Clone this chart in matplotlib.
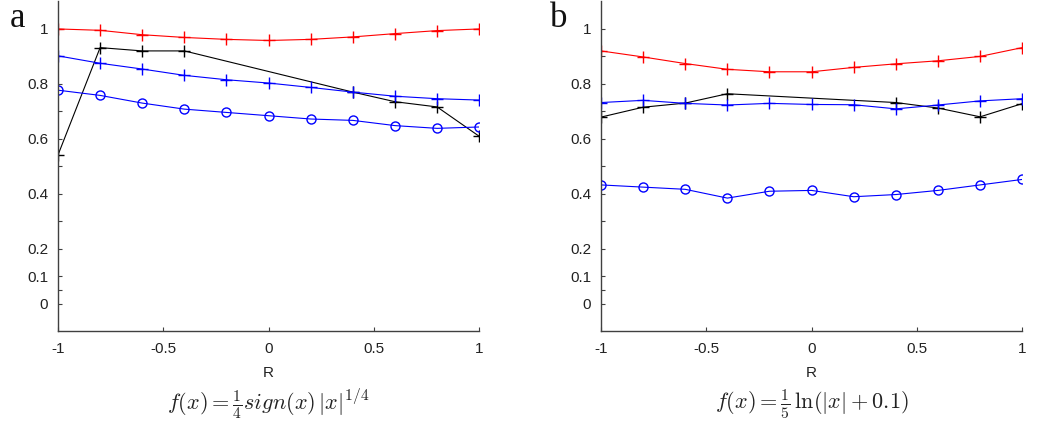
import matplotlib
matplotlib.use("Agg")
import matplotlib.pyplot as plt

# -------------------------------
# Data (x = R from -1 to 1 in steps of 0.2)
# -------------------------------
r_values = [-1.0, -0.8, -0.6, -0.4, -0.2, 0.0, 0.2, 0.4, 0.6, 0.8, 1.0]
# the black series has no points between -0.4 and 0.4
r_black = [-1.0, -0.8, -0.6, -0.4, 0.4, 0.6, 0.8, 1.0]

# panel a: f(x) = 1/4 sign(x) |x|^(1/4)
a_red_plus = [1.000, 0.995, 0.979, 0.969, 0.962, 0.958, 0.962, 0.971, 0.983, 0.994, 1.000]
a_black_plus = [0.541, 0.932, 0.920, 0.920, 0.770, 0.735, 0.716, 0.609]
a_blue_plus = [0.902, 0.875, 0.854, 0.831, 0.815, 0.803, 0.787, 0.770, 0.755, 0.746, 0.741]
a_blue_circle = [0.777, 0.758, 0.730, 0.708, 0.696, 0.684, 0.672, 0.667, 0.648, 0.638, 0.643]

# panel b: f(x) = 1/5 ln(|x| + 0.1)
b_red_plus = [0.920, 0.898, 0.874, 0.853, 0.844, 0.844, 0.860, 0.873, 0.884, 0.900, 0.932]
b_black_plus = [0.679, 0.715, 0.730, 0.764, 0.732, 0.712, 0.680, 0.728]
b_blue_plus = [0.732, 0.740, 0.729, 0.723, 0.729, 0.725, 0.724, 0.709, 0.723, 0.738, 0.746]
b_blue_circle = [0.432, 0.424, 0.416, 0.384, 0.409, 0.412, 0.389, 0.397, 0.412, 0.432, 0.452]

x_ticks = [-1, -0.5, 0, 0.5, 1]
x_tick_labels = ["-1", "-0.5", "0", "0.5", "1"]
y_ticks = [0, 0.1, 0.2, 0.4, 0.6, 0.8, 1]
y_tick_labels = ["0", "0.1", "0.2", "0.4", "0.6", "0.8", "1"]
y_minor_ticks = [0.05, 0.3, 0.5, 0.7, 0.9]

panels = [
    ("a", a_red_plus, a_black_plus, a_blue_plus, a_blue_circle,
     r"$f(x) = \frac{1}{4}sign(x)\,|x|^{1/4}$"),
    ("b", b_red_plus, b_black_plus, b_blue_plus, b_blue_circle,
     r"$f(x) = \frac{1}{5}\,\ln(|x| + 0.1)$"),
]

plt.rcParams["mathtext.fontset"] = "cm"
plt.rcParams["font.family"] = "Liberation Sans"

fig = plt.figure(figsize=(10.45, 4.24), dpi=100)
axes_lefts = [0.0555, 0.5751]
letter_x = [0.017, 0.535]
spine_color = "#404040"

for left, lx, (letter, red, black, blue_p, blue_o, formula) in zip(axes_lefts, letter_x, panels):
    ax = fig.add_axes([left, 0.2193, 0.4031, 0.7772])
    ax.plot(r_values, red, color="red", marker="+", markersize=8, linewidth=0.8)
    ax.plot(r_black, black, color="black", marker="+", markersize=8, linewidth=0.8)
    ax.plot(r_values, blue_p, color="blue", marker="+", markersize=8, linewidth=0.8)
    ax.plot(r_values, blue_o, color="blue", marker="o", markersize=6.5,
            markerfacecolor="none", linewidth=0.8)

    ax.set_xlim(-1, 1)
    ax.set_ylim(-0.1, 1.1)
    ax.set_xticks(x_ticks)
    ax.set_xticklabels(x_tick_labels)
    ax.set_yticks(y_ticks)
    ax.set_yticklabels(y_tick_labels)
    ax.set_yticks(y_minor_ticks, minor=True)

    for side in ["top", "right"]:
        ax.spines[side].set_visible(False)
    for side in ["left", "bottom"]:
        ax.spines[side].set_color(spine_color)
        ax.spines[side].set_linewidth(1.0)

    ax.tick_params(axis="both", which="both", direction="in", length=3,
                   width=0.8, color=spine_color, labelsize=11, labelcolor="#222222")
    ax.tick_params(axis="y", pad=7)
    ax.tick_params(axis="x", pad=8)
    ax.set_xlabel("R", fontsize=11, color="#222222", labelpad=7)

    # panel letter, top-left outside the axes
    fig.text(lx, 1 - 27 / 424, letter, fontsize=25, family="Liberation Serif",
             ha="center", va="baseline", color="#111111")

    # formula under the panel
    fig.text(left + 0.4031 / 2, 0.047, formula, fontsize=16, ha="center",
             va="center", color="#222222")

fig.savefig("out.png", dpi=100)
